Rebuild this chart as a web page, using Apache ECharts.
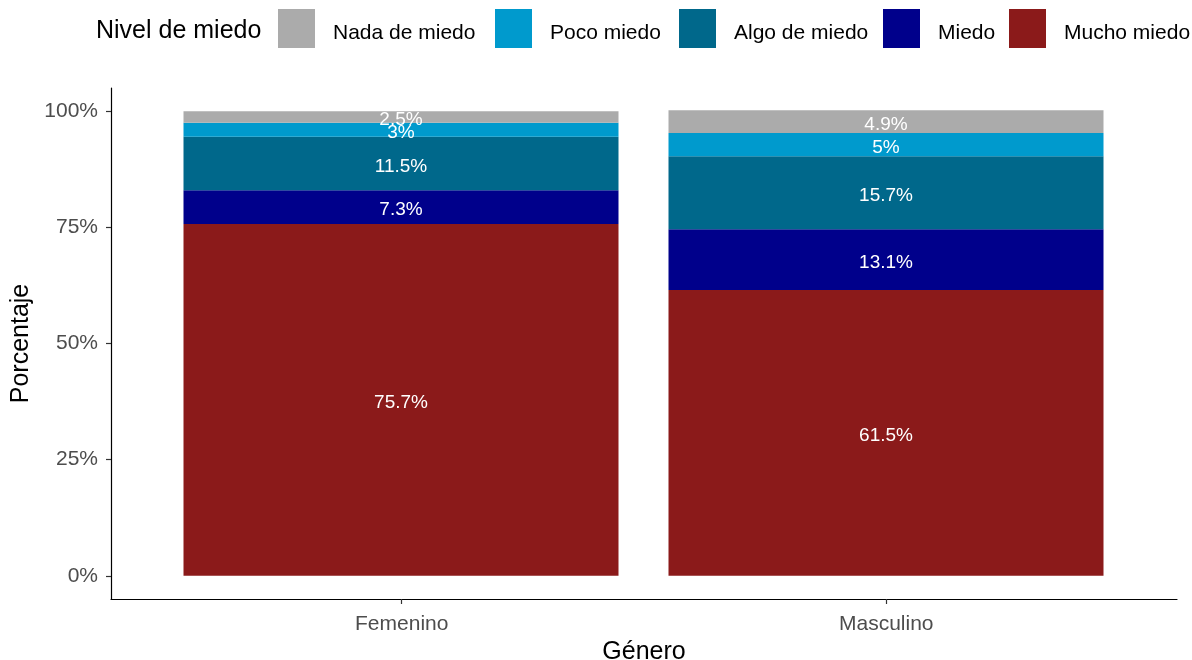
<!DOCTYPE html>
<html>
<head>
<meta charset="utf-8">
<script src="https://cdn.jsdelivr.net/npm/echarts@6/dist/echarts.min.js"></script>
<style>
html,body{margin:0;padding:0;background:#fff;}
#main{width:1192px;height:660px;}
</style>
</head>
<body>
<div id="main"></div>
<script>
const categories = ['Femenino', 'Masculino'];
const levels = ['Nada de miedo', 'Poco miedo', 'Algo de miedo', 'Miedo', 'Mucho miedo'];
const colors = ['#ABABAB', '#009ACD', '#00688B', '#00008B', '#8B1A1A'];
// percentages per level: [Femenino, Masculino]
const nadaDeMiedo = [2.5, 4.9];
const pocoMiedo = [3, 5];
const algoDeMiedo = [11.5, 15.7];
const miedo = [7.3, 13.1];
const muchoMiedo = [75.7, 61.5];
const yTicks = [0, 25, 50, 75, 100];
const xTickPos = [1, 2];

const valuesByLevel = {
  'Nada de miedo': nadaDeMiedo,
  'Poco miedo': pocoMiedo,
  'Algo de miedo': algoDeMiedo,
  'Miedo': miedo,
  'Mucho miedo': muchoMiedo
};

const FONT = 'Liberation Sans, Arial, sans-serif';
// stacking order: bottom to top
const stackOrder = ['Mucho miedo', 'Miedo', 'Algo de miedo', 'Poco miedo', 'Nada de miedo'];
// legend key left positions (layout)
const legendLefts = [273, 490, 674, 878, 1004];

const series = stackOrder.map(name => ({
  name: name,
  type: 'bar',
  stack: 'total',
  xAxisIndex: 1,
  yAxisIndex: 1,
  barWidth: 435,
  itemStyle: { color: colors[levels.indexOf(name)] },
  label: {
    show: true,
    position: 'inside',
    offset: [0, 3],
    color: '#ffffff',
    fontFamily: FONT,
    fontSize: 19,
    formatter: p => p.value + '%'
  },
  emphasis: { disabled: true },
  data: valuesByLevel[name]
}));

const legends = levels.map((name, i) => ({
  data: [name],
  left: legendLefts[i],
  top: 4,
  itemWidth: 37,
  itemHeight: 39,
  icon: 'rect',
  selectedMode: false,
  formatter: n => '{t|' + n + '}',
  textStyle: {
    fontFamily: FONT, fontSize: 21, color: '#000000',
    rich: { t: { fontFamily: FONT, fontSize: 21, color: '#000000', padding: [9, 0, 0, 13] } }
  }
}));

const chart = echarts.init(document.getElementById('main'), null, { renderer: 'canvas' });
chart.setOption({
  animation: false,
  backgroundColor: '#ffffff',
  grid: [
    { left: 111, right: 15, top: 88, bottom: 61, containLabel: false, outerBoundsMode: 'none' },
    { left: 158.5, right: 63.5, top: 88, bottom: 61, containLabel: false, outerBoundsMode: 'none' }
  ],
  graphic: [{
    type: 'text',
    left: 96,
    top: 19,
    style: { text: 'Nivel de miedo', fontFamily: FONT, fontSize: 25, fill: '#000000' }
  }],
  legend: legends,
  xAxis: [{
    type: 'value',
    gridIndex: 0,
    min: 0.4,
    max: 2.6,
    name: 'Género',
    nameLocation: 'middle',
    nameGap: 41,
    nameTextStyle: { fontFamily: FONT, fontSize: 25, color: '#000000' },
    splitLine: { show: false },
    axisLine: { show: true, onZero: false, lineStyle: { color: '#000000', width: 1.2 } },
    axisTick: { show: true, length: 5, customValues: xTickPos, lineStyle: { color: '#333333', width: 1.2 } },
    axisLabel: {
      customValues: xTickPos,
      margin: 15,
      fontFamily: FONT, fontSize: 21, color: '#4D4D4D',
      formatter: v => categories[xTickPos.indexOf(v)] || ''
    }
  }, {
    type: 'category',
    gridIndex: 1,
    data: categories,
    show: false
  }],
  yAxis: [{
    type: 'value',
    gridIndex: 0,
    min: -5,
    max: 105,
    name: 'Porcentaje',
    nameLocation: 'middle',
    nameRotate: 90,
    nameGap: 69,
    nameTextStyle: { fontFamily: FONT, fontSize: 25, color: '#000000' },
    splitLine: { show: false },
    axisLine: { show: true, lineStyle: { color: '#000000', width: 1.2 } },
    axisTick: { show: true, length: 5, customValues: yTicks, lineStyle: { color: '#333333', width: 1.2 } },
    axisLabel: {
      customValues: yTicks,
      margin: 13,
      padding: [4, 0, 0, 0],
      fontFamily: FONT, fontSize: 21, color: '#4D4D4D',
      formatter: v => v + '%'
    }
  }, {
    type: 'value',
    gridIndex: 1,
    min: -5,
    max: 105,
    show: false,
    splitLine: { show: false }
  }],
  series: series
});
</script>
</body>
</html>
